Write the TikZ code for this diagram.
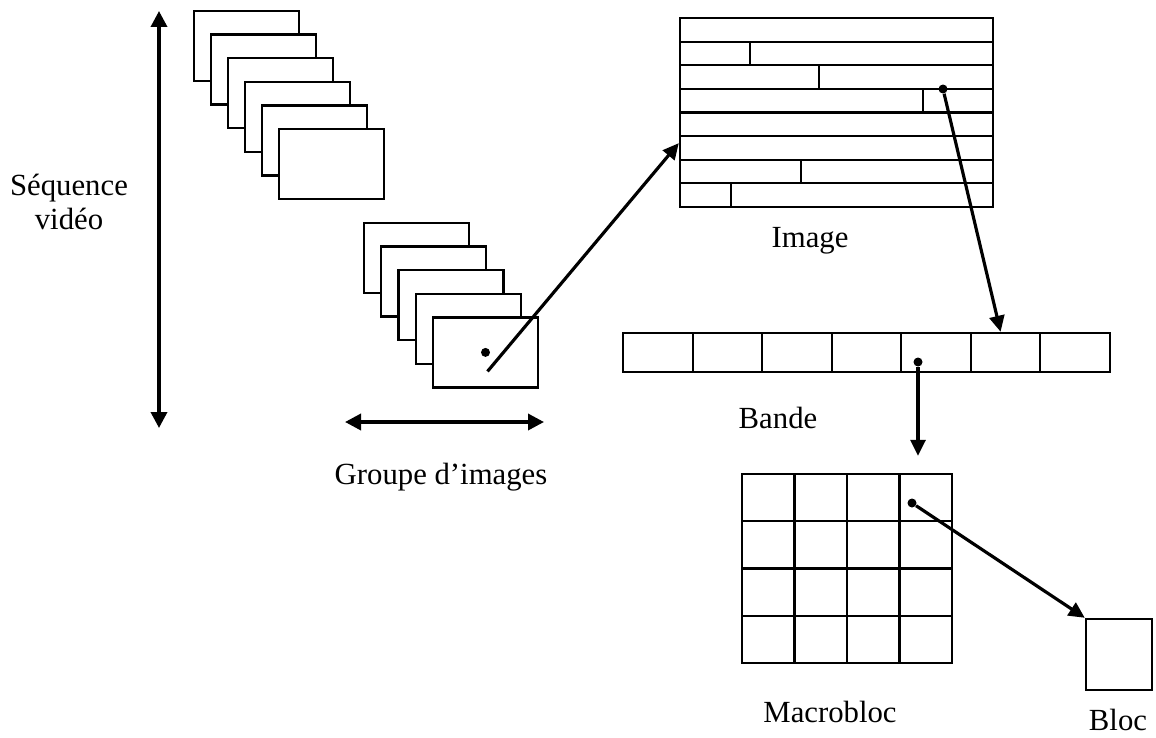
\documentclass[tikz,border=0pt]{standalone}
\usepackage{fontspec}
\setmainfont{Liberation Serif}
\usetikzlibrary{arrows.meta,calc}

\begin{document}
\begin{tikzpicture}
 [x=0.02cm, y=-0.02cm,
  frame node/.style={draw, line width=1.4pt, fill=white, minimum width=2.1cm, minimum height=1.4cm, inner sep=0pt},
  box node/.style={draw, line width=1.4pt, inner sep=0pt},
  grid line/.style={line width=1.2pt},
  label node/.style={font=\fontsize{17.5}{19.5}\selectfont, anchor=base, inner sep=0pt},
  dot node/.style={circle, fill=black, inner sep=0pt, minimum size=1.8mm},
  link/.style={-{Triangle[length=3.2mm,width=3mm]}, line width=1.8pt},
  span/.style={{Triangle[length=3.2mm,width=3.2mm]}-{Triangle[length=3.2mm,width=3.2mm]}, line width=2pt}]

\useasboundingbox (0,0) rectangle (1156,737);

\foreach \i in {0,...,5}
  \node[frame node] (s\i) at (246.5+17*\i, 46+23.6*\i) {};
\foreach \i in {0,...,4}
  \node[frame node] (g\i) at (416.5+17.25*\i, 258+23.6*\i) {};

\coordinate (seqtop) at (159,11);
\coordinate (seqbot) at (159,428);
\coordinate (grpleft) at (345,422);
\coordinate (grpright) at (544,422);
\node[align=center, font=\fontsize{17.5}{19.5}\selectfont] (seq) at (69,202) {Séquence\\vidéo};
\node[label node] (grp) at (441,484) {Groupe d’images};

\node[box node, minimum width=6.26cm, minimum height=3.78cm] (img) at (836.5,112.5) {};
\foreach \r in {1,...,7}
  \draw[grid line] (680,18+23.625*\r) -- (993,18+23.625*\r);
\foreach \r/\x in {2/750, 3/819, 4/923, 7/801, 8/731}
  \draw[grid line] (\x,18+23.625*\r-23.625) -- (\x,18+23.625*\r);
\node[label node] (imglabel) at (810,247) {Image};

\node[box node, minimum width=9.74cm, minimum height=0.78cm] (band) at (866.5,352.5) {};
\foreach \k in {1,...,6}
  \draw[grid line] (623+69.57*\k,333) -- (623+69.57*\k,372);
\node[label node] (bandlabel) at (778,428) {Bande};

\node[box node, minimum width=4.2cm, minimum height=3.78cm] (mb) at (847,568.5) {};
\foreach \k in {1,2,3} {
  \draw[grid line] (742+52.5*\k,474) -- (742+52.5*\k,663);
  \draw[grid line] (742,474+47.25*\k) -- (952,474+47.25*\k);
}
\node[label node] (mblabel) at (830,722) {Macrobloc};

\node[box node, minimum width=1.32cm, minimum height=1.42cm] (bloc) at (1119,654.5) {};
\node[label node] (bloclabel) at (1118,730) {Bloc};

\node[dot node] (gdot) at (g4.center) {};
\node[dot node] (idot) at (943,89) {};
\node[dot node] (bdot) at (918,362) {};
\node[dot node] (mdot) at (912,503) {};
\coordinate (gtail) at ($(gdot)+(2,19)$);

\path
  (seqtop) edge [span] (seqbot)
  (grpleft) edge [span] (grpright)
  (gtail) edge [link] ($(img.north west)!0.66!(img.south west)$)
  (idot) edge [link] ($(band.north west)!0.774!(band.north east)$)
  (bdot) edge [link, shorten >=0.34cm] (bdot |- mb.north)
  (mdot) edge [link] (bloc.north west);

\end{tikzpicture}
\end{document}
